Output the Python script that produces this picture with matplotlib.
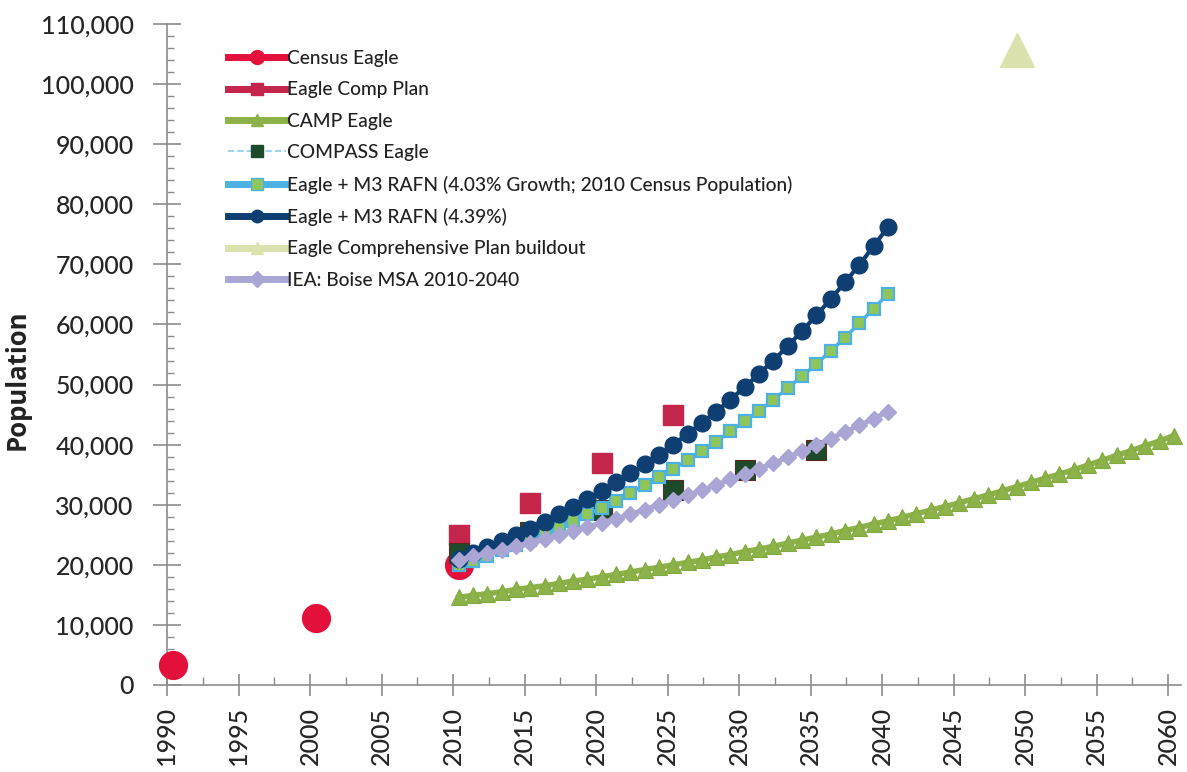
import matplotlib
matplotlib.use("Agg")
import matplotlib.pyplot as plt
from matplotlib.lines import Line2D
from matplotlib.ticker import MultipleLocator, FuncFormatter

plt.rcParams['font.family'] = ['Lato', 'DejaVu Sans']

# ---------------- data ----------------
census_years = [1990, 2000, 2010]
census_pop = [3300, 11100, 19900]

comp_years = [2010, 2015, 2020, 2025]
comp_pop = [24900, 30300, 37000, 45000]

camp_years = list(range(2010, 2061))
camp_pop = [14600, 14900, 15200, 15500, 15900, 16200, 16500, 16900, 17300, 17600,
            18000, 18400, 18800, 19200, 19600, 20000, 20400, 20800, 21300, 21700,
            22200, 22600, 23100, 23600, 24100, 24600, 25100, 25700, 26200, 26800,
            27300, 27900, 28500, 29100, 29700, 30300, 31000, 31600, 32300, 33000,
            33700, 34400, 35100, 35800, 36600, 37400, 38200, 39000, 39800, 40600,
            41500]

compass_years = [2010, 2015, 2020, 2025, 2030, 2035]
compass_pop = [22000, 25500, 29200, 32400, 35800, 39100]

rafn403_years = list(range(2010, 2041))
rafn403_pop = [19900, 20700, 21500, 22400, 23300, 24200, 25200, 26200, 27300, 28400,
               29500, 30700, 32000, 33300, 34600, 36000, 37400, 39000, 40500, 42200,
               43900, 45600, 47500, 49400, 51400, 53400, 55600, 57800, 60200, 62600,
               65100]

rafn439_years = list(range(2010, 2041))
rafn439_pop = [21000, 21900, 22900, 23900, 24900, 26000, 27200, 28400, 29600, 30900,
               32300, 33700, 35200, 36700, 38300, 40000, 41800, 43600, 45500, 47500,
               49600, 51800, 54000, 56400, 58900, 61500, 64200, 67000, 69900, 73000,
               76200]

buildout_years = [2049]
buildout_pop = [105700]

iea_years = list(range(2010, 2041))
iea_pop = [20800, 21400, 21900, 22500, 23100, 23700, 24300, 25000, 25600, 26300,
           27000, 27700, 28400, 29200, 30000, 30800, 31600, 32400, 33300, 34200,
           35100, 36000, 36900, 37900, 38900, 39900, 41000, 42100, 43200, 44300,
           45500]

legend_labels = ["Census Eagle", "Eagle Comp Plan", "CAMP Eagle", "COMPASS Eagle",
                 "Eagle + M3 RAFN (4.03% Growth; 2010 Census Population)",
                 "Eagle + M3 RAFN (4.39%)", "Eagle Comprehensive Plan buildout",
                 "IEA: Boise MSA 2010-2040"]

x_ticks = list(range(1990, 2061, 5))
y_ticks = list(range(0, 110001, 10000))

OFFSET = 0.4  # markers sit slightly to the right of the year tick (Excel date axis)

def xs(years):
    return [y + OFFSET for y in years]

# ---------------- figure ----------------
fig = plt.figure(figsize=(11.87, 7.72), dpi=100)
ax = fig.add_axes([167/1187, 1-685/772, (1181-167)/1187, (685-24)/772])

c_census = "#e2103b"
c_comp = "#c3254b"
c_camp = "#8db24a"
c_compass = "#1d4a2a"
c_compass_line = "#9fd4ef"
c_rafn403_edge = "#4db1e3"
c_rafn403_face = "#8ec65c"
c_rafn439 = "#0f3f72"
c_build = "#dbe2ae"
c_iea = "#a9a5d5"

ax.plot(xs(census_years), census_pop, ls='none', marker='o', ms=20,
        mfc=c_census, mec=c_census, zorder=3, clip_on=False)
ax.plot(xs(comp_years), comp_pop, ls='none', marker='s', ms=14.5,
        mfc=c_comp, mec=c_comp, zorder=4, clip_on=False)
ax.plot(xs(camp_years), camp_pop, ls='-', lw=4, color=c_camp, marker='^', ms=12,
        mfc=c_camp, mec="#83aa40", mew=0.8, zorder=5, clip_on=False)
ax.plot(xs(compass_years), compass_pop, ls='none', marker='s', ms=14,
        mfc=c_compass, mec="#5a2a20", mew=0.8, zorder=6, clip_on=False)
ax.plot(xs(rafn403_years), rafn403_pop, ls='-', lw=2.5, color=c_rafn403_edge,
        marker='s', ms=8.5, mfc=c_rafn403_face, mec=c_rafn403_edge, mew=1.6,
        zorder=7, clip_on=False)
ax.plot(xs(rafn439_years), rafn439_pop, ls='-', lw=3, color=c_rafn439,
        marker='o', ms=12, mfc=c_rafn439, mec=c_rafn439, zorder=8, clip_on=False)
ax.plot(xs(buildout_years), buildout_pop, ls='none', marker='^', ms=24,
        mfc=c_build, mec=c_build, zorder=9, clip_on=False)
ax.plot(xs(iea_years), iea_pop, ls='-', lw=3.5, color=c_iea, marker='D', ms=8.5,
        mfc=c_iea, mec=c_iea, zorder=10, clip_on=False)

# ---------------- axes ----------------
ax.set_xlim(1990, 2060.9)
ax.set_ylim(0, 110000)
for s in ['top', 'right']:
    ax.spines[s].set_visible(False)
for s in ['left', 'bottom']:
    ax.spines[s].set_color('#8c8c8c')
    ax.spines[s].set_linewidth(1.2)

ax.set_xticks(x_ticks)
ax.set_xticklabels([str(v) for v in x_ticks], rotation=90, fontweight='medium')
ax.xaxis.set_minor_locator(MultipleLocator(2.5))
ax.set_yticks(y_ticks)
ax.yaxis.set_major_formatter(FuncFormatter(lambda v, p: f"{int(v):,}"))
ax.yaxis.set_minor_locator(MultipleLocator(2000))
for t in ax.get_yticklabels():
    t.set_fontweight('medium')

ax.tick_params(axis='x', which='major', direction='inout', length=16, width=1.2,
               color='#8c8c8c', labelsize=18, labelcolor='#262626', pad=8)
ax.tick_params(axis='x', which='minor', direction='in', length=6, width=1.0,
               color='#8c8c8c')
ax.tick_params(axis='y', which='major', direction='inout', length=20, width=1.2,
               color='#8c8c8c', labelsize=18, labelcolor='#262626', pad=14)
ax.tick_params(axis='y', which='minor', direction='in', length=5, width=1.0,
               color='#8c8c8c')

ax.set_ylabel("Population", fontsize=18.5, fontweight='bold', color='#222222',
              family=['Open Sans', 'DejaVu Sans'])
ax.yaxis.set_label_coords(-0.134, 0.462)

# ---------------- legend ----------------
handles = [
    Line2D([], [], color=c_census, lw=5, marker='o', ms=10, mfc=c_census, mec=c_census),
    Line2D([], [], color=c_comp, lw=5, marker='s', ms=9, mfc=c_comp, mec=c_comp),
    Line2D([], [], color=c_camp, lw=5, marker='^', ms=9, mfc=c_camp, mec=c_camp),
    Line2D([], [], color=c_compass_line, lw=1.5, ls=(0, (3, 1.5)), marker='s', ms=8,
           mfc=c_compass, mec=c_compass),
    Line2D([], [], color=c_rafn403_edge, lw=5, marker='s', ms=8, mfc=c_rafn403_face,
           mec=c_rafn403_edge),
    Line2D([], [], color=c_rafn439, lw=5, marker='o', ms=9, mfc=c_rafn439, mec=c_rafn439),
    Line2D([], [], color=c_build, lw=5, marker='^', ms=9, mfc=c_build, mec=c_build),
    Line2D([], [], color=c_iea, lw=5, marker='D', ms=8, mfc=c_iea, mec=c_iea),
]
leg = ax.legend(handles, legend_labels, loc='upper left',
                bbox_to_anchor=((228-167)/1014, (685-50)/661),
                frameon=False, handlelength=3.0, handletextpad=0.1,
                labelspacing=0.75, borderpad=0, borderaxespad=0,
                prop={'size': 13.8, 'weight': 'medium'})
for t in leg.get_texts():
    t.set_color('#222222')

fig.savefig("out.png", dpi=100, facecolor='white')
